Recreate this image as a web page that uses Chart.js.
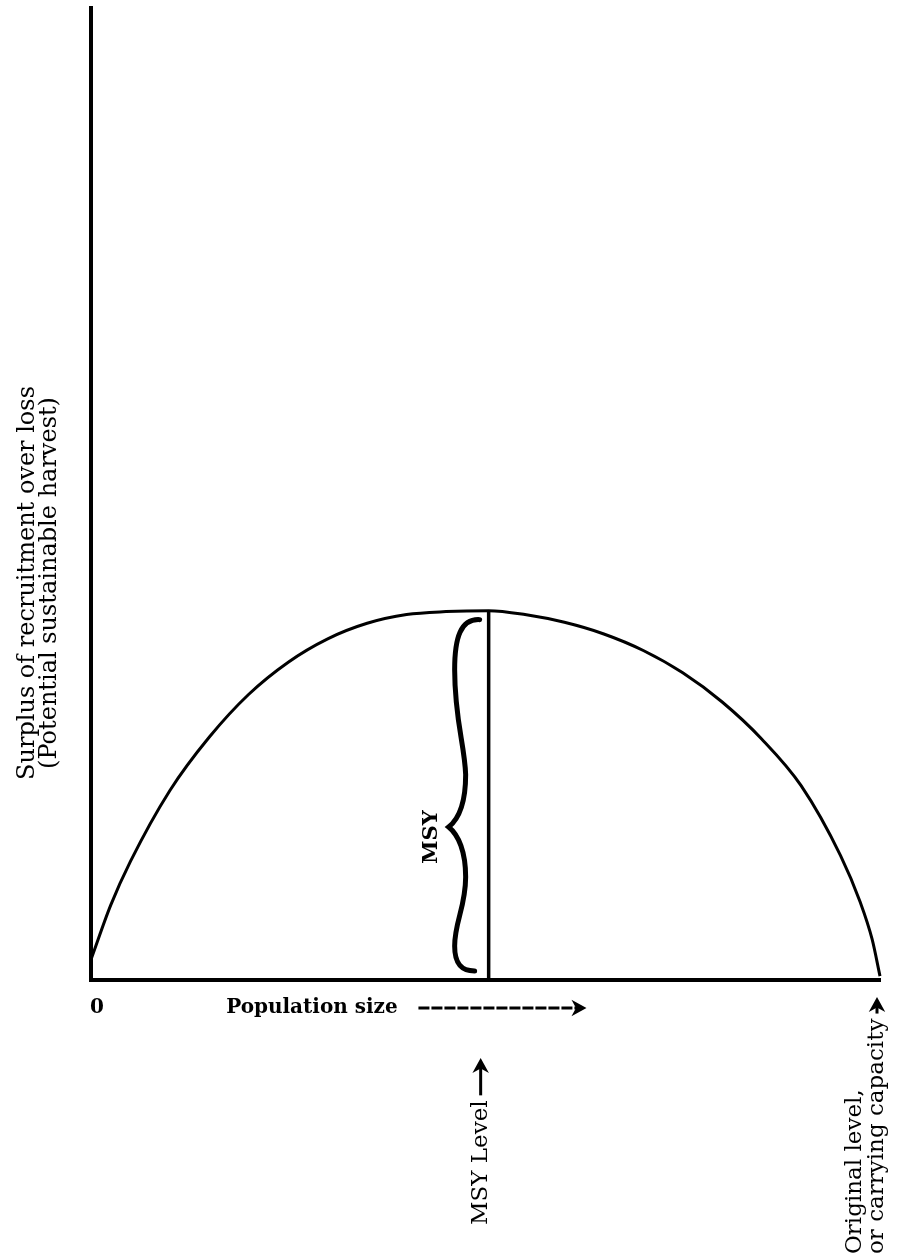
<!DOCTYPE html>
<html lang="en">
<head>
  <meta charset="UTF-8">
  <title>Surplus production curve</title>
  <script src="https://cdn.jsdelivr.net/npm/chart.js"></script>
  <style>
    body { margin: 0; background: #fff; }
    canvas { display: block; }
  </style>
</head>
<body>
  <canvas id="msyChart" width="900" height="1257"></canvas>

<script>
  // population size (0 .. carrying capacity = 100) and surplus
  const popSize = [0, 2.5, 5, 10, 15, 20, 25, 30, 35, 40, 45, 50.4, 55, 60, 65, 70, 75, 80, 85, 90, 95, 97.5, 99, 100];
  const surplus = [2.1, 7.7, 12.2, 19.5, 25.0, 29.4, 32.7, 35.1, 36.7, 37.6, 37.9, 38.0, 37.6, 36.8, 35.6, 33.9, 31.6, 28.6, 24.8, 20.0, 12.8, 8.0, 4.2, 0.4];
  const msyLevel = 50.4;
  const msyValue = 38.0;
  const carryingCapacity = 100;

  const yTitle = ['Surplus of recruitment over loss', '(Potential sustainable harvest)'];
  const xTitle = 'Population size';
  const zeroLabel = '0';
  const msyText = 'MSY';
  const msyLevelText = 'MSY Level';
  const carryingText = ['Original level,', 'or carrying capacity'];

  const serif = '"DejaVu Serif", "Liberation Serif", serif';

  function arrowHead(ctx, x, y, dir, size) {
    // dir: 'up' or 'right'
    ctx.beginPath();
    if (dir === 'up') {
      ctx.moveTo(x, y);
      ctx.lineTo(x - size * 0.55, y + size);
      ctx.lineTo(x, y + size * 0.7);
      ctx.lineTo(x + size * 0.55, y + size);
    } else {
      ctx.moveTo(x, y);
      ctx.lineTo(x - size, y - size * 0.55);
      ctx.lineTo(x - size * 0.7, y);
      ctx.lineTo(x - size, y + size * 0.55);
    }
    ctx.closePath();
    ctx.fill();
  }

  function upArrowLabel(ctx, lines, x, yStart, lineGap, tipY) {
    ctx.save();
    ctx.translate(x, yStart);
    ctx.rotate(-Math.PI / 2);
    ctx.textAlign = 'left';
    ctx.textBaseline = 'middle';
    let endX = 0;
    lines.forEach((t, i) => {
      const off = (i - (lines.length - 1)) * lineGap;
      ctx.fillText(t, 0, off);
      endX = ctx.measureText(t).width;
    });
    ctx.restore();
    // arrow on the last line
    const from = yStart - endX - 5;
    ctx.lineWidth = 3;
    ctx.beginPath();
    ctx.moveTo(x, from);
    ctx.lineTo(x, tipY + 10);
    ctx.stroke();
    arrowHead(ctx, x, tipY, 'up', 15);
  }

  const annotate = {
    id: 'annotate',
    afterDraw(chart) {
      const { ctx, scales: { x, y } } = chart;
      const mx = x.getPixelForValue(msyLevel);
      const yt = y.getPixelForValue(msyValue) + 9;
      const yb = y.getPixelForValue(0) - 9;
      const yc = yt + (yb - yt) * 0.59;
      const base = y.getPixelForValue(0);

      ctx.save();
      ctx.fillStyle = '#000';
      ctx.strokeStyle = '#000';
      ctx.lineCap = 'round';

      // curly brace beside the MSY line
      ctx.lineWidth = 5;
      ctx.beginPath();
      ctx.moveTo(mx - 9, yt);
      ctx.bezierCurveTo(mx - 28, yt - 1, mx - 34, yt + 18, mx - 34, yt + 50);
      ctx.bezierCurveTo(mx - 34, yt + 100, mx - 24, yt + 125, mx - 23, yt + 155);
      ctx.bezierCurveTo(mx - 23, yc - 25, mx - 30, yc - 8, mx - 40, yc);
      ctx.bezierCurveTo(mx - 30, yc + 8, mx - 23, yc + 25, mx - 23, yc + 50);
      ctx.bezierCurveTo(mx - 23, yc + 80, mx - 34, yc + 95, mx - 34, yb - 25);
      ctx.bezierCurveTo(mx - 34, yb - 8, mx - 28, yb, mx - 14, yb);
      ctx.stroke();

      // MSY
      ctx.font = 'bold 21px ' + serif;
      ctx.save();
      ctx.translate(mx - 57, yc + 10);
      ctx.rotate(-Math.PI / 2);
      ctx.textAlign = 'center';
      ctx.textBaseline = 'middle';
      ctx.fillText(msyText, 0, 0);
      ctx.restore();

      // y axis title, two rotated lines
      ctx.font = '24px ' + serif;
      ctx.save();
      ctx.translate(39, 583);
      ctx.rotate(-Math.PI / 2);
      ctx.textAlign = 'center';
      ctx.textBaseline = 'middle';
      ctx.fillText(yTitle[0], 0, -11);
      ctx.fillText(yTitle[1], 0, 11);
      ctx.restore();

      // 0 and Population size ------>
      ctx.font = 'bold 20px ' + serif;
      ctx.textAlign = 'center';
      ctx.textBaseline = 'middle';
      ctx.fillText(zeroLabel, x.getPixelForValue(0) + 6, base + 28);
      ctx.fillText(xTitle, x.getPixelForValue(28), base + 28);
      const a0 = x.getPixelForValue(41.5);
      const a1 = x.getPixelForValue(62.8);
      ctx.lineWidth = 3;
      ctx.lineCap = 'butt';
      ctx.setLineDash([11, 2]);
      ctx.beginPath();
      ctx.moveTo(a0, base + 28);
      ctx.lineTo(a1 - 10, base + 28);
      ctx.stroke();
      ctx.setLineDash([]);
      arrowHead(ctx, a1, base + 28, 'right', 15);

      // MSY Level -> and carrying capacity ->
      ctx.font = '23px ' + serif;
      upArrowLabel(ctx, [msyLevelText], mx - 8, 1225, 0, 1058);
      upArrowLabel(ctx, carryingText, x.getPixelForValue(carryingCapacity) - 3, 1254, 22, 997);

      ctx.restore();
    }
  };

  const msyChart = new Chart(document.getElementById('msyChart').getContext('2d'), {
    type: 'scatter',
    data: {
      datasets: [
        {
          label: 'Surplus',
          data: popSize.map((p, i) => ({ x: p, y: surplus[i] })),
          showLine: true,
          borderColor: '#000',
          borderWidth: 3,
          pointRadius: 0,
          cubicInterpolationMode: 'monotone',
          clip: 10,
        },
        {
          label: 'MSY',
          data: [{ x: msyLevel, y: 0 }, { x: msyLevel, y: msyValue }],
          showLine: true,
          borderColor: '#000',
          borderWidth: 3.5,
          pointRadius: 0,
          clip: 10,
        },
      ],
    },
    options: {
      responsive: false,
      animation: false,
      layout: { padding: { left: 83, right: 20, top: 8, bottom: 269 } },
      plugins: { legend: { display: false }, tooltip: { enabled: false } },
      scales: {
        x: {
          type: 'linear', min: 0, max: 100,
          grid: { display: false },
          ticks: { display: false },
          border: { display: true, color: '#000', width: 4 },
        },
        y: {
          type: 'linear', min: 0, max: 100,
          grid: { display: false },
          ticks: { display: false },
          border: { display: true, color: '#000', width: 4 },
        },
      },
    },
    plugins: [annotate],
  });
</script>
</body>
</html>
